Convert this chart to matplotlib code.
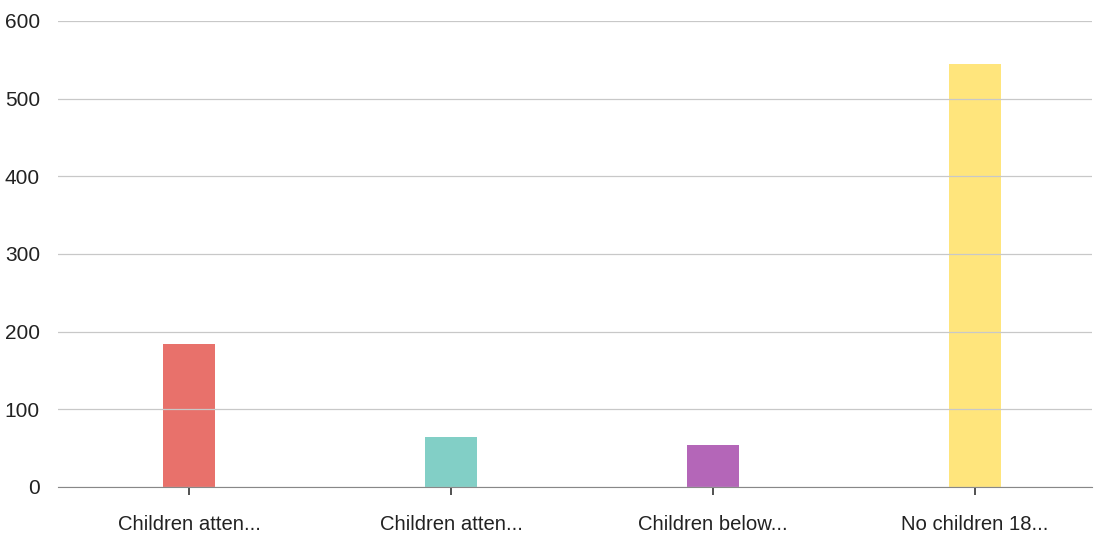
import matplotlib.pyplot as plt

categories = ["Children atten...", "Children atten...", "Children below...", "No children 18..."]
values = [184, 64, 54, 544]
colors = ["#E8716B", "#82CFC6", "#B466B8", "#FFE57C"]
y_ticks = [0, 100, 200, 300, 400, 500, 600]

plt.rcParams['font.family'] = ['Liberation Sans', 'DejaVu Sans']

fig = plt.figure(figsize=(11.1, 5.41), dpi=100)
ax = fig.add_axes([58/1110, 1 - 487/541, (1092-58)/1110, (487-21)/541])

x = range(len(categories))
ax.bar(x, values, width=0.2, color=colors, zorder=2)

ax.set_ylim(0, 600)
ax.set_xlim(-0.5, 3.447)
ax.set_yticks(y_ticks)
ax.set_xticks(list(x))
ax.set_xticklabels(categories)
ax.grid(axis='y', color='#c8c8c8', linewidth=0.9, zorder=3)
ax.set_axisbelow(False)
for s in ['top', 'right', 'left']:
    ax.spines[s].set_visible(False)
ax.spines['bottom'].set_color('#888888')
ax.spines['bottom'].set_zorder(4)
ax.tick_params(axis='y', length=0, labelsize=15, pad=13, colors='#222222')
ax.tick_params(axis='x', length=6, width=1.2, color='#333333', labelsize=14.6, pad=14, labelcolor='#222222')

plt.savefig('out.png', dpi=100)
